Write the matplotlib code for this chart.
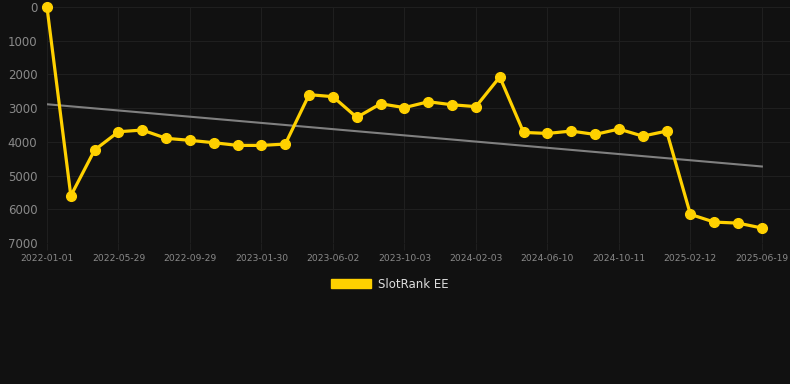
import numpy as np
import matplotlib
matplotlib.use("Agg")
import matplotlib.pyplot as plt
from matplotlib.patches import Patch

# rank per sample (31 samples)
ranks = [10, 5600, 4240, 3700, 3650, 3895, 3955, 4025, 4105, 4105, 4065,
         2600, 2660, 3275, 2870, 2985, 2810, 2900, 2955, 2075, 3720,
         3750, 3680, 3780, 3620, 3830, 3680, 6150, 6380, 6410, 6555]
tick_labels = ["2022-01-01", "2022-05-29", "2022-09-29", "2023-01-30", "2023-06-02",
               "2023-10-03", "2024-02-03", "2024-06-10", "2024-10-11", "2025-02-12",
               "2025-06-19"]
y_ticks = [0, 1000, 2000, 3000, 4000, 5000, 6000, 7000]

BG = "#111111"
GRID = "#1f1f1f"
TXT = "#8a8a8a"
GOLD = "#ffd100"

x = np.arange(len(ranks))
coef = np.polyfit(x, ranks, 1)
trend = np.polyval(coef, x)

fig = plt.figure(figsize=(7.9, 3.84), dpi=100, facecolor=BG)
ax = fig.add_axes([47 / 790, 1 - 243 / 384, 1 - 47 / 790, (243 - 7) / 384])
ax.set_facecolor(BG)

ax.plot(x, trend, color="#808080", lw=1.5, zorder=2)
ax.plot(x, ranks, color=GOLD, lw=2.3, marker="o", markersize=7, zorder=3,
        clip_on=False)

ax.set_xlim(0, 31.18)
ax.set_ylim(7000, 0)
ax.set_xticks(x[::3])
ax.set_xticklabels(tick_labels)
ax.set_yticks(y_ticks)
ax.grid(True, color=GRID, lw=0.8)
for s in ax.spines.values():
    s.set_visible(False)
ax.tick_params(axis="x", colors=GRID, length=5, width=0.8, pad=3,
               labelcolor=TXT, labelsize=6.6)
ax.tick_params(axis="y", length=0, pad=7, labelcolor=TXT, labelsize=8.5)

fig.legend(handles=[Patch(facecolor=GOLD, edgecolor=GOLD, label="SlotRank EE")],
           loc="center", bbox_to_anchor=(390 / 790, 1 - 284 / 384), frameon=False,
           fontsize=8.5, labelcolor="#dddddd", handlelength=3.4, handleheight=0.9,
           handletextpad=0.6)

fig.savefig("out.png", dpi=100, facecolor=BG)
